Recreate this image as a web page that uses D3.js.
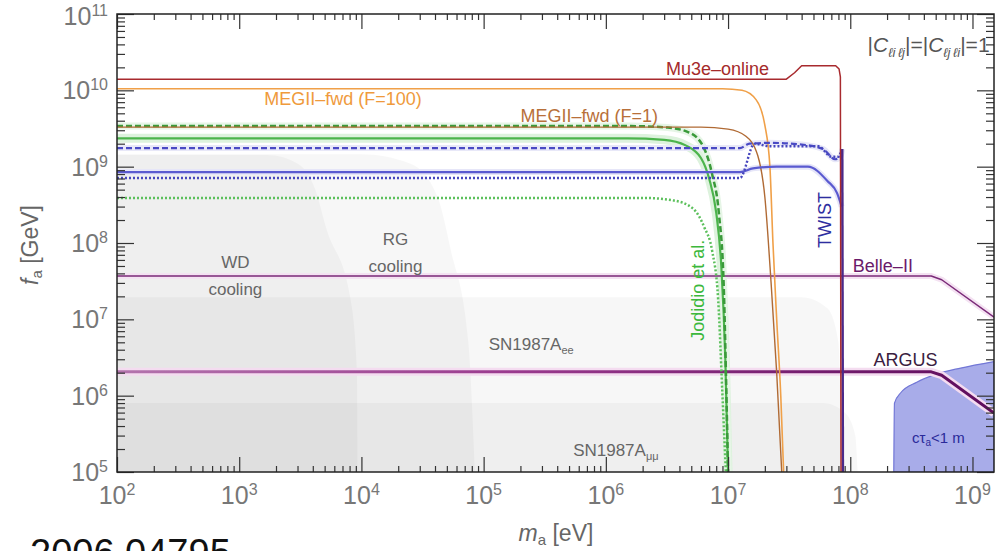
<!DOCTYPE html>
<html>
<head>
<meta charset="utf-8">
<script src="https://cdn.jsdelivr.net/npm/d3@7"></script>
<style>
  body { margin: 0; background: #fff; }
  svg { display: block; }
  text { font-family: "Liberation Sans", Arial, sans-serif; }
</style>
</head>
<body>
<svg id="chart" width="997" height="551"></svg>
<script>
// ---- data (m_a in eV, f_a in GeV) ----
const xMajorTicks = [1e2, 1e3, 1e4, 1e5, 1e6, 1e7, 1e8, 1e9];
const yMajorTicks = [1e5, 1e6, 1e7, 1e8, 1e9, 1e10, 1e11];

// upper boundaries of the excluded regions, left to right
const wdCooling = [[1e2, 1.42e9], [1.7e3, 1.42e9], [3e3, 1.1e9], [4.2e3, 5e8], [5.2e3, 1.5e8], [8.1e3, 1.95e7], [9.2e3, 2e6], [9.3e3, 1e5]];
const rgCooling = [[1e2, 1.45e9], [1e4, 1.45e9], [2.5e4, 1.1e9], [4.2e4, 4e8], [5.4e4, 8e7], [7.5e4, 5e6], [8.5e4, 1e5]];
const snEE = [[1e2, 1.95e7], [4e7, 1.95e7], [6.5e7, 1.4e7], [8e7, 5e6], [8.3e7, 1e6], [8.4e7, 1e5]];
const snMuMu = [[1e2, 8e5], [6e7, 8e5], [9e7, 6e5], [1.1e8, 3e5], [1.15e8, 1e5]];
const decayRegion = [[2.27e8, 1e5], [2.3e8, 8e5], [2.6e8, 1.1e6], [3.5e8, 1.5e6], [5e8, 1.9e6], [8e8, 2.3e6], [1.5e9, 2.8e6]];

const mu3eOnline = [[1e2, 1.4e10], [3.0e7, 1.4e10], [3.5e7, 1.7e10], [4.0e7, 2.1e10], [7.6e7, 2.1e10], [8.1e7, 1.9e10], [8.3e7, 1.5e10], [8.4e7, 1e5]];
const megFwd100 = [[1e2, 1.05e10], [9e6, 1.05e10], [1.3e7, 1e10], [1.7e7, 7.5e9], [2.0e7, 3.5e9], [2.2e7, 1e9], [2.33e7, 1e8], [2.5e7, 1e7], [2.7e7, 1e6], [2.85e7, 1e5]];
const megFwd1 = [[1e2, 3.3e9], [6e6, 3.3e9], [1.0e7, 3.1e9], [1.4e7, 2.5e9], [1.75e7, 1.4e9], [2.0e7, 4e8], [2.25e7, 3e7], [2.5e7, 2e6], [2.75e7, 1e5]];
const jodidioDash = [[1e2, 3.4e9], [1.6e6, 3.4e9], [3.2e6, 3.25e9], [4.8e6, 2.8e9], [6.3e6, 1.8e9], [7.4e6, 8e8], [8.4e6, 2.5e8], [9.2e6, 3e7], [9.7e6, 1e6], [1e7, 1e5]];
const jodidioSolid = [[1e2, 2.35e9], [1.5e6, 2.35e9], [3e6, 2.25e9], [4.5e6, 1.9e9], [6e6, 1.3e9], [7e6, 7e8], [8e6, 2.5e8], [8.8e6, 5e7], [9.5e6, 3e6], [1e7, 1e5]];
const jodidioDot = [[1e2, 3.9e8], [2e6, 3.9e8], [3.6e6, 3.6e8], [5.2e6, 2.8e8], [6.4e6, 1.6e8], [7.4e6, 8e7], [8.3e6, 1.8e7], [9e6, 1e6], [9.6e6, 1e5]];
const twistDash = [[1e2, 1.75e9], [1.25e7, 1.75e9], [1.5e7, 2.0e9], [2.2e7, 2.05e9], [4e7, 1.95e9], [6e7, 1.7e9], [7.5e7, 1.25e9], [8.3e7, 1.35e9], [8.6e7, 1.7e9]];
const twistDot = [[1e2, 7.1e8], [1.25e7, 7.1e8], [1.65e7, 2.0e9], [2.2e7, 1.85e9], [5.5e7, 1.85e9], [7e7, 1.35e9], [8e7, 1.35e9], [8.5e7, 1.7e9]];
const twistSolid = [[1e2, 8.5e8], [1.25e7, 8.5e8], [1.6e7, 9.5e8], [2.5e7, 1.0e9], [4.5e7, 1.0e9], [6.5e7, 6.5e8], [7.8e7, 4.5e8], [8.5e7, 3e8]];
const twistEdge = [[8.6e7, 1.7e9], [8.7e7, 1e5]];
const belleII = [[1e2, 3.7e7], [4.6e8, 3.7e7], [5.6e8, 3.3e7], [1.5e9, 1.07e7]];
const argus = [[1e2, 2.05e6], [4.6e8, 2.05e6], [5.6e8, 1.85e6], [1.5e9, 5.9e5]];

// ---- layout ----
const svg = d3.select('#chart');
const plot = { left: 117, right: 994, top: 14, bottom: 472 };

const x = d3.scaleLog().domain([1e2, 1.5e9]).range([plot.left, plot.right]);
const y = d3.scaleLog().domain([1e5, 1e11]).range([plot.bottom, plot.top]);

const defs = svg.append('defs');
defs.append('clipPath').attr('id', 'clip')
    .append('rect')
    .attr('x', plot.left).attr('y', plot.top)
    .attr('width', plot.right - plot.left).attr('height', plot.bottom - plot.top);

const argusGrad = defs.append('linearGradient')
    .attr('id', 'argusGrad')
    .attr('gradientUnits', 'userSpaceOnUse')
    .attr('x1', plot.left).attr('x2', plot.right).attr('y1', 0).attr('y2', 0);
argusGrad.append('stop').attr('offset', 0).attr('stop-color', '#b374ad');
argusGrad.append('stop').attr('offset', 0.45).attr('stop-color', '#9a3a8e');
argusGrad.append('stop').attr('offset', 1).attr('stop-color', '#5e0c5c');

const g = svg.append('g').attr('clip-path', 'url(#clip)');

const smooth = d3.line().x(d => x(d[0])).y(d => y(d[1])).curve(d3.curveMonotoneX);
const straight = d3.line().x(d => x(d[0])).y(d => y(d[1]));

// region below a boundary: boundary path, then down to the left bottom corner
function regionPath(boundary) {
    const last = boundary[boundary.length - 1];
    return smooth(boundary) + `L${x(last[0])},${y(1e5)}L${x(1e2)},${y(1e5)}Z`;
}

[wdCooling, rgCooling, snEE, snMuMu].forEach(region => {
    g.append('path')
        .attr('d', regionPath(region))
        .attr('fill', '#000')
        .attr('fill-opacity', 0.033);
});

g.append('path')
    .attr('d', smooth(decayRegion) + `L${x(1.5e9)},${y(1e5)}Z`)
    .attr('fill', '#a8ace9')
    .attr('stroke', '#7277d6')
    .attr('stroke-width', 1.2);

function curve(data, opts) {
    g.append('path')
        .attr('d', (opts.linear ? straight : smooth)(data))
        .attr('fill', 'none')
        .attr('stroke', opts.color)
        .attr('stroke-width', opts.width || 1.5)
        .attr('stroke-dasharray', opts.dash || null)
        .attr('stroke-linejoin', 'round');
}

// halos
curve(belleII, { color: '#f4e2f2', width: 6, linear: true });
curve(argus, { color: '#f4dcf0', width: 8, linear: true });
curve(jodidioSolid, { color: '#ddf2dd', width: 9 });
curve(jodidioDash, { color: '#e6f5e6', width: 7 });
curve(twistDash, { color: '#e8e8f8', width: 6 });
curve(twistSolid, { color: '#e6e6f8', width: 6 });

// limits
curve(belleII, { color: '#7a2a78', width: 1.5, linear: true });
curve(argus, { color: 'url(#argusGrad)', width: 3, linear: true });
curve(jodidioDot, { color: '#5cc05c', width: 2.5, dash: '2,2' });
curve(jodidioSolid, { color: '#4cb44c', width: 2.2 });
curve(jodidioDash, { color: '#3a9a3a', width: 2.5, dash: '6,3' });
curve(megFwd100, { color: '#f0a048', width: 1.6 });
curve(megFwd1, { color: '#b06a34', width: 1.4 });
curve(twistSolid, { color: '#5a5ad0', width: 2.2 });
curve(twistDash, { color: '#4a4ac4', width: 2.2, dash: '6,3' });
curve(twistDot, { color: '#4646be', width: 2.4, dash: '2,2' });
curve(twistEdge, { color: '#4a2a8a', width: 2.5, linear: true });
curve(mu3eOnline, { color: '#a82a2e', width: 1.5, linear: true });

// ---- labels ----
function label(mx, fy, opts) {
    const t = svg.append('text')
        .attr('x', x(mx)).attr('y', y(fy))
        .attr('font-size', opts.size || 17)
        .attr('fill', opts.color)
        .attr('text-anchor', opts.anchor || 'start');
    if (opts.rotate) {
        t.attr('transform', `rotate(-90,${x(mx)},${y(fy)})`);
    }
    return t;
}

label(1.6e3, 6.5e9, { color: '#ef9a3c', size: 18 }).text('MEGII\u2013fwd (F=100)');
label(2e5, 3.85e9, { color: '#b8703a', size: 18 }).text('MEGII\u2013fwd (F=1)');
label(3.1e6, 1.6e10, { color: '#a52a2a', size: 18 }).text('Mu3e\u2013online');

const cl = label(1.38e9, 3.2e10, { color: '#555', size: 21, anchor: 'end' });
cl.append('tspan').text('|');
cl.append('tspan').attr('font-style', 'italic').text('C');
cl.append('tspan').attr('font-size', 13).attr('dy', 5).attr('font-style', 'italic').text('\u2113i\u2009\u2113j');
cl.append('tspan').attr('dy', -5).text('|=|');
cl.append('tspan').attr('font-style', 'italic').text('C');
cl.append('tspan').attr('font-size', 13).attr('dy', 5).attr('font-style', 'italic').text('\u2113j\u2009\u2113i');
cl.append('tspan').attr('dy', -5).text('|=1');

label(9.3e2, 4.7e7, { color: '#666', anchor: 'middle' }).text('WD');
label(9.3e2, 2.1e7, { color: '#666', anchor: 'middle' }).text('cooling');
label(1.9e4, 9.3e7, { color: '#666', anchor: 'middle' }).text('RG');
label(1.9e4, 4.2e7, { color: '#666', anchor: 'middle' }).text('cooling');

const snA = label(1.1e5, 4e6, { color: '#666' });
snA.append('tspan').text('SN1987A');
snA.append('tspan').attr('font-size', 11).attr('dy', 4).text('ee');
const snB = label(5.4e5, 1.6e5, { color: '#666' });
snB.append('tspan').text('SN1987A');
snB.append('tspan').attr('font-size', 11).attr('dy', 4).text('\u03bc\u03bc');

label(6.3e6, 2.4e7, { color: '#3cb83c', size: 18, anchor: 'middle', rotate: true }).text('Jodidio et al.');
label(7e7, 2e8, { color: '#2e2ea0', size: 18, anchor: 'middle', rotate: true }).text('TWIST');
label(1.05e8, 4.2e7, { color: '#6a1a6a', size: 18 }).text('Belle\u2013II');
label(1.55e8, 2.45e6, { color: '#3a2040', size: 18 }).text('ARGUS');

const ct = label(3.2e8, 2.4e5, { color: '#2a2a9a', size: 15 });
ct.append('tspan').text('c\u03c4');
ct.append('tspan').attr('font-size', 10).attr('dy', 3).text('a');
ct.append('tspan').attr('dy', -3).text('<1 m');

// ---- axes ----
const xMinor = x.ticks().filter(v => !xMajorTicks.includes(v));
const yMinor = y.ticks().filter(v => !yMajorTicks.includes(v));

function drawAxis(axisFn, scale, values, size, transform) {
    const a = svg.append('g')
        .attr('transform', transform)
        .call(axisFn(scale).tickValues(values).tickSize(-size).tickFormat(''));
    a.select('.domain').remove();
    a.selectAll('.tick line').attr('stroke', '#333').attr('stroke-width', 1.2);
    return a;
}

drawAxis(d3.axisBottom, x, xMajorTicks, 15, `translate(0,${plot.bottom})`);
drawAxis(d3.axisBottom, x, xMinor, 6, `translate(0,${plot.bottom})`);
drawAxis(d3.axisTop, x, xMajorTicks, 15, `translate(0,${plot.top})`);
drawAxis(d3.axisTop, x, xMinor, 6, `translate(0,${plot.top})`);
drawAxis(d3.axisLeft, y, yMajorTicks, 17, `translate(${plot.left},0)`);
drawAxis(d3.axisLeft, y, yMinor, 8, `translate(${plot.left},0)`);
drawAxis(d3.axisRight, y, yMajorTicks, 17, `translate(${plot.right},0)`);
drawAxis(d3.axisRight, y, yMinor, 8, `translate(${plot.right},0)`);

svg.append('rect')
    .attr('x', plot.left).attr('y', plot.top)
    .attr('width', plot.right - plot.left).attr('height', plot.bottom - plot.top)
    .attr('fill', 'none').attr('stroke', '#222').attr('stroke-width', 1.5);

function powerText(sel, exponent) {
    sel.append('tspan').text('10');
    sel.append('tspan').attr('font-size', 16).attr('dy', -9).text(exponent);
}

xMajorTicks.forEach(v => {
    const t = svg.append('text')
        .attr('x', x(v)).attr('y', 504)
        .attr('text-anchor', 'middle')
        .attr('font-size', 25).attr('fill', '#777');
    powerText(t, Math.round(Math.log10(v)));
});

yMajorTicks.forEach(v => {
    const t = svg.append('text')
        .attr('x', 108).attr('y', Math.max(y(v) + 9, 25))
        .attr('text-anchor', 'end')
        .attr('font-size', 25).attr('fill', '#777');
    powerText(t, Math.round(Math.log10(v)));
});

const xt = svg.append('text')
    .attr('x', 556).attr('y', 541)
    .attr('text-anchor', 'middle')
    .attr('font-size', 23).attr('fill', '#666');
xt.append('tspan').attr('font-style', 'italic').text('m');
xt.append('tspan').attr('font-size', 15).attr('dy', 4).text('a');
xt.append('tspan').attr('dy', -4).text(' [eV]');

const yt = svg.append('text')
    .attr('transform', 'translate(38,245) rotate(-90)')
    .attr('text-anchor', 'middle')
    .attr('font-size', 23).attr('fill', '#666');
yt.append('tspan').attr('font-style', 'italic').text('f');
yt.append('tspan').attr('font-size', 15).attr('dy', 4).text('a');
yt.append('tspan').attr('dy', -4).text(' [GeV]');

// arXiv number under the figure, cut by the page edge as in the original
svg.append('text')
    .attr('x', 30).attr('y', 566)
    .attr('font-size', 38).attr('fill', '#111')
    .text('2006.04795');
</script>
</body>
</html>
